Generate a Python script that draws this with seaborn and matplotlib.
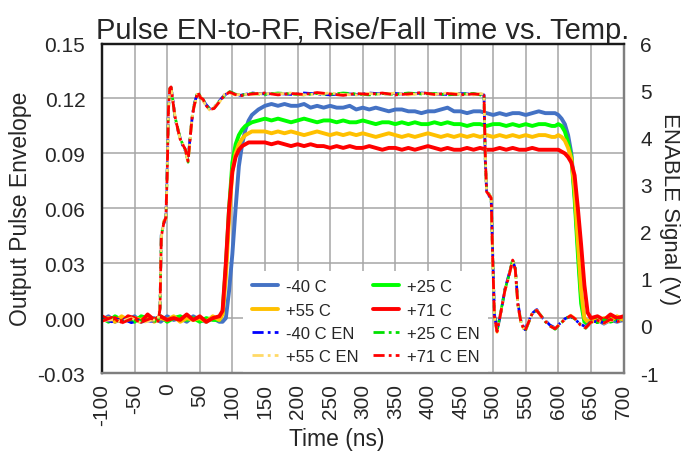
import numpy as np
import matplotlib
matplotlib.use("Agg")
import matplotlib.pyplot as plt
import seaborn as sns

# sampling times of the RF envelope traces (ns)
t_rf = np.concatenate([np.arange(-100, 81, 10), np.arange(85, 131, 5), [140],
                       np.arange(150, 591, 10), np.arange(595, 651, 5), np.arange(660, 701, 10)])

# output pulse envelope per temperature
rf_m40 = [-0.001, 0.001, -0.002, 0.000, -0.001, 0.001, -0.002, -0.001, 0.000, -0.002,
          0.001, -0.001, 0.000, -0.002, 0.001, -0.001, -0.002, 0.000, -0.002,
          -0.002, 0.000, 0.015, 0.035, 0.060, 0.083, 0.095, 0.103, 0.108, 0.111, 0.114,
          0.116, 0.117, 0.116, 0.117, 0.116, 0.116, 0.117, 0.115, 0.116, 0.115,
          0.116, 0.115, 0.115, 0.116, 0.114, 0.115, 0.114, 0.115, 0.114, 0.113,
          0.114, 0.114, 0.113, 0.113, 0.112, 0.113, 0.113, 0.114, 0.115, 0.113,
          0.113, 0.112, 0.113, 0.113, 0.112, 0.111, 0.112, 0.111, 0.112, 0.112,
          0.111, 0.112, 0.113, 0.112, 0.112,
          0.112, 0.111, 0.109, 0.106, 0.100, 0.090, 0.068, 0.040, 0.012, -0.001, -0.004, -0.002,
          -0.001, -0.003, -0.001, -0.002, -0.001]
rf_p25 = [0.000, -0.002, 0.001, -0.001, 0.000, -0.002, 0.001, 0.000, -0.001, 0.001,
          -0.002, 0.000, 0.001, -0.001, 0.000, -0.002, 0.000, -0.001, -0.001,
          0.003, 0.028, 0.060, 0.085, 0.095, 0.100, 0.103, 0.105, 0.106, 0.107, 0.108,
          0.109, 0.108, 0.109, 0.108, 0.107, 0.108, 0.109, 0.108, 0.107, 0.108,
          0.108, 0.107, 0.108, 0.107, 0.107, 0.108, 0.107, 0.106, 0.107, 0.107,
          0.106, 0.107, 0.106, 0.107, 0.106, 0.106, 0.107, 0.106, 0.107, 0.106,
          0.106, 0.105, 0.106, 0.106, 0.105, 0.106, 0.106, 0.105, 0.106, 0.105,
          0.106, 0.105, 0.106, 0.106, 0.105,
          0.105, 0.106, 0.105, 0.102, 0.096, 0.088, 0.065, 0.035, 0.008, -0.002, -0.003, -0.001,
          0.000, -0.002, 0.001, -0.001, 0.000]
rf_p55 = [-0.001, 0.000, -0.002, 0.001, -0.001, 0.000, -0.001, 0.001, -0.002, 0.000,
          -0.001, 0.001, -0.002, 0.000, -0.001, 0.000, -0.002, 0.001, -0.001,
          0.002, 0.022, 0.055, 0.080, 0.090, 0.095, 0.098, 0.100, 0.101, 0.102, 0.102,
          0.102, 0.101, 0.102, 0.101, 0.102, 0.101, 0.100, 0.101, 0.102, 0.101,
          0.100, 0.101, 0.100, 0.101, 0.100, 0.101, 0.100, 0.099, 0.100, 0.101,
          0.100, 0.099, 0.100, 0.099, 0.100, 0.101, 0.100, 0.099, 0.100, 0.099,
          0.100, 0.099, 0.100, 0.099, 0.100, 0.099, 0.100, 0.099, 0.100, 0.099,
          0.100, 0.099, 0.100, 0.100, 0.099,
          0.099, 0.100, 0.099, 0.097, 0.093, 0.087, 0.070, 0.042, 0.015, 0.000, -0.002, -0.001,
          -0.002, 0.000, -0.001, 0.001, -0.001]
rf_p71 = [0.001, -0.001, 0.000, -0.002, 0.001, 0.000, -0.002, 0.002, -0.001, 0.001,
          -0.001, 0.000, -0.001, 0.002, -0.001, 0.001, -0.002, 0.000, 0.001,
          0.004, 0.030, 0.060, 0.080, 0.088, 0.092, 0.094, 0.095, 0.096, 0.096, 0.096,
          0.096, 0.095, 0.096, 0.095, 0.094, 0.095, 0.094, 0.095, 0.094, 0.094,
          0.093, 0.094, 0.093, 0.094, 0.093, 0.093, 0.094, 0.093, 0.092, 0.093,
          0.093, 0.092, 0.093, 0.092, 0.093, 0.094, 0.093, 0.092, 0.093, 0.092,
          0.092, 0.093, 0.092, 0.093, 0.092, 0.092, 0.093, 0.092, 0.093, 0.092,
          0.092, 0.093, 0.092, 0.092, 0.092,
          0.092, 0.092, 0.091, 0.090, 0.088, 0.085, 0.078, 0.060, 0.040, 0.018, 0.003, 0.000,
          0.001, -0.001, 0.002, 0.000, 0.001]

# sampling times of the ENABLE traces (ns)
t_en = [-100, -85, -70, -55, -40, -25, -14, -11, -9, -5, -2, 0, 2, 4, 6, 9, 12, 16, 20, 24,
        28, 32, 35, 38, 41, 44, 47, 51, 55, 60, 65, 72, 80, 88, 96, 104, 112,
        130, 150, 170, 190, 210, 230, 250, 270, 290, 310, 330, 350, 370, 390, 410, 430, 450, 470,
        480, 486, 488, 490, 494, 497, 499, 502, 506, 512, 518, 524, 530, 534, 538, 543, 549,
        555, 561, 567, 573, 580, 587, 595, 603, 611, 619, 626, 634, 642, 650, 660, 670, 680,
        690, 700]

# ENABLE signal (V) per temperature
en_m40 = [0.14, 0.09, 0.16, 0.07, 0.13, 0.10, 0.12, 0.40, 1.95, 2.18, 2.32, 3.30, 4.65, 5.02,
          5.06, 4.78, 4.42, 4.18, 3.99, 3.83, 3.72, 3.52, 3.98, 4.38, 4.68, 4.84, 4.95, 4.87,
          4.80, 4.70, 4.62, 4.64, 4.78, 4.91, 4.96, 4.94, 4.90,
          4.95, 4.93, 4.94, 4.92, 4.95, 4.93, 4.91, 4.94, 4.92, 4.95, 4.93, 4.94, 4.92, 4.95,
          4.93, 4.92, 4.94, 4.92,
          4.93, 4.91, 3.50, 2.88, 2.76, 2.70, 1.70, 0.25, -0.10, 0.28, 0.78, 1.08, 1.38, 1.22,
          0.48, 0.08, -0.08, 0.12, 0.28, 0.35, 0.20, 0.12, 0.02, -0.04, 0.06, 0.16, 0.20, 0.13,
          0.04, -0.02, 0.10, 0.09, 0.08, 0.12, 0.11, 0.10]
en_p25 = [0.12, 0.15, 0.09, 0.13, 0.11, 0.14, 0.08, 0.38, 1.92, 2.22, 2.28, 3.25, 4.62, 5.04,
          5.07, 4.76, 4.44, 4.22, 3.98, 3.86, 3.74, 3.48, 3.96, 4.42, 4.66, 4.83, 4.98, 4.86,
          4.81, 4.69, 4.61, 4.63, 4.77, 4.89, 4.98, 4.93, 4.90,
          4.94, 4.92, 4.95, 4.93, 4.91, 4.94, 4.92, 4.95, 4.93, 4.91, 4.94, 4.92, 4.95, 4.93,
          4.94, 4.91, 4.93, 4.94,
          4.91, 4.89, 3.55, 2.86, 2.80, 2.71, 1.65, 0.22, -0.11, 0.32, 0.76, 1.06, 1.42, 1.22,
          0.46, 0.06, -0.12, 0.09, 0.31, 0.32, 0.23, 0.09, 0.01, -0.07, 0.04, 0.16, 0.21, 0.14,
          0.03, -0.05, 0.09, 0.07, 0.13, 0.08, 0.12, 0.10]
en_p55 = [0.11, 0.13, 0.10, 0.17, 0.06, 0.12, 0.13, 0.42, 1.88, 2.24, 2.26, 3.15, 4.58, 5.03,
          5.05, 4.74, 4.46, 4.19, 3.96, 3.87, 3.73, 3.46, 3.93, 4.41, 4.64, 4.81, 4.96, 4.88,
          4.79, 4.67, 4.59, 4.65, 4.75, 4.92, 4.95, 4.91, 4.92,
          4.92, 4.94, 4.93, 4.95, 4.91, 4.93, 4.95, 4.92, 4.91, 4.94, 4.92, 4.95, 4.91, 4.94,
          4.92, 4.95, 4.93, 4.91,
          4.94, 4.92, 3.65, 2.83, 2.79, 2.74, 1.55, 0.18, -0.14, 0.29, 0.74, 1.04, 1.39, 1.18,
          0.43, 0.04, -0.11, 0.11, 0.29, 0.34, 0.21, 0.11, -0.01, -0.05, 0.05, 0.14, 0.23, 0.16,
          0.01, -0.03, 0.07, 0.13, 0.05, 0.12, 0.10, 0.11]
en_p71 = [0.10, 0.18, 0.06, 0.15, 0.08, 0.16, 0.10, 0.35, 1.90, 2.20, 2.30, 3.20, 4.60, 5.05,
          5.08, 4.75, 4.45, 4.20, 3.97, 3.85, 3.75, 3.50, 3.95, 4.40, 4.65, 4.82, 4.97, 4.85,
          4.82, 4.68, 4.60, 4.62, 4.76, 4.90, 4.97, 4.92, 4.89,
          4.93, 4.95, 4.91, 4.94, 4.92, 4.96, 4.93, 4.90, 4.94, 4.92, 4.95, 4.91, 4.93, 4.96,
          4.92, 4.94, 4.91, 4.93,
          4.92, 4.90, 3.60, 2.85, 2.78, 2.72, 1.60, 0.20, -0.12, 0.30, 0.75, 1.05, 1.40, 1.20,
          0.45, 0.05, -0.10, 0.10, 0.30, 0.33, 0.22, 0.10, 0.00, -0.06, 0.05, 0.15, 0.22, 0.15,
          0.02, -0.04, 0.08, 0.12, 0.06, 0.14, 0.09, 0.13]

rf_labels = ['-40 C', '+25 C', '+55 C', '+71 C']
rf_colors = ['#4472C4', '#00FF00', '#FFC000', '#FF0000']
en_labels = ['-40 C EN', '+25 C EN', '+55 C EN', '+71 C EN']
en_colors = ['#0000FF', '#00E000', '#FFD966', '#FF0000']

sns.set_theme(style="white")
plt.rcParams['font.family'] = ['Liberation Sans', 'DejaVu Sans']
plt.rcParams['axes.unicode_minus'] = False

fig = plt.figure(figsize=(6.83, 4.56), dpi=100)
ax = fig.add_axes([0.1493, 0.1798, 0.7636, 0.7224])
ax2 = ax.twinx()

for vals, lab, col in zip([rf_m40, rf_p25, rf_p55, rf_p71], rf_labels, rf_colors):
    sns.lineplot(x=t_rf, y=vals, ax=ax, color=col, lw=2.8, label=lab)

for vals, lab, col in zip([en_m40, en_p25, en_p55, en_p71], en_labels, en_colors):
    sns.lineplot(x=t_en, y=vals, ax=ax2, color=col, lw=2.0,
                 linestyle=(0, (4, 1.5, 1, 1.5)), label=lab)

ax.set_xlim(-100, 700)
ax.set_ylim(-0.03, 0.15)
ax2.set_ylim(-1, 6)
ax.set_xticks(np.arange(-100, 701, 50))
ax.set_yticks(np.arange(-0.03, 0.151, 0.03))
ax.yaxis.set_major_formatter(matplotlib.ticker.FormatStrFormatter('%.2f'))
ax2.set_yticks(range(-1, 7))

ax.grid(True, color='#a6a6a6', lw=1.1)
ax.set_axisbelow(True)
ax.tick_params(axis='both', length=0, labelsize=15, pad=12)
ax.tick_params(axis='x', labelrotation=90, pad=7)
ax2.tick_params(axis='y', length=0, labelsize=15, pad=12)

for a in (ax, ax2):
    a.spines['top'].set_color('#1a1a1a')
    a.spines['left'].set_color('#1a1a1a')
    a.spines['bottom'].set_color('#7f7f7f')
    a.spines['right'].set_color('#7f7f7f')
    for s in a.spines.values():
        s.set_linewidth(1.6)

ax.set_title('Pulse EN-to-RF, Rise/Fall Time vs. Temp.', fontsize=21, pad=4)
ax.set_xlabel('Time (ns)', fontsize=16.5)
ax.xaxis.set_label_coords(0.45, -0.163)
ax.xaxis.label.set_va('top')
ax.set_ylabel('Output Pulse Envelope', fontsize=16.5, labelpad=4)
ax2.set_ylabel('ENABLE Signal (V)', fontsize=16, rotation=270, va='bottom', labelpad=0)

# combined legend, drawn in the main axes so the EN traces stay on top of it
h1, l1 = ax.get_legend_handles_labels()
h2, l2 = ax2.get_legend_handles_labels()
if ax2.get_legend() is not None:
    ax2.get_legend().remove()
order_h = [h1[0], h1[2], h2[0], h2[2], h1[1], h1[3], h2[1], h2[3]]
order_l = [l1[0], l1[2], l2[0], l2[2], l1[1], l1[3], l2[1], l2[3]]
ax.legend(order_h, order_l, ncol=2, loc='lower left', bbox_to_anchor=(0.255, -0.024),
          frameon=True, facecolor='white', edgecolor='none', framealpha=1,
          fontsize=12, handlelength=1.6, handletextpad=0.45, columnspacing=0.85,
          labelspacing=0.5, borderpad=0.5, fancybox=False)

fig.savefig('out.png', dpi=100)
